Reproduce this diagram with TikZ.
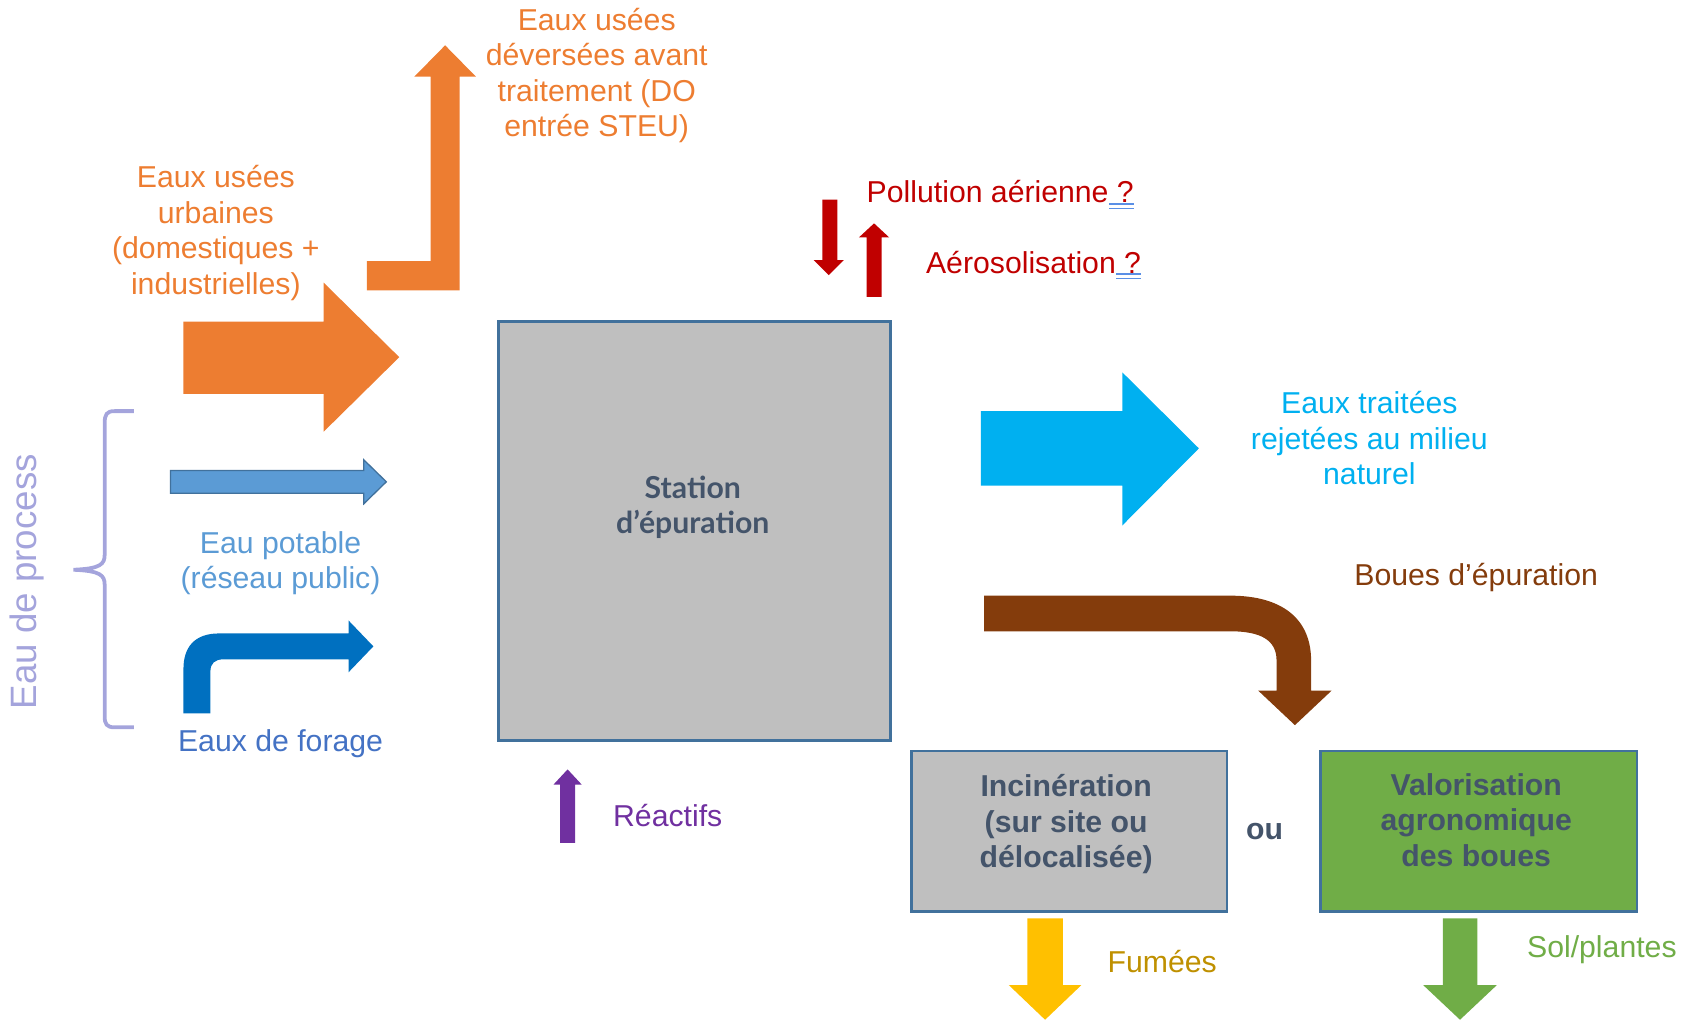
\documentclass[tikz,border=0pt]{standalone}
\usepackage{fontspec}
\setmainfont{Liberation Sans}
\newfontfamily\lato{Lato}
\usetikzlibrary{calc}
\definecolor{orangeW}{HTML}{ED7D31}
\definecolor{potable}{HTML}{5B9BD5}
\definecolor{potableB}{HTML}{41719C}
\definecolor{forage}{HTML}{0070C0}
\definecolor{forageT}{HTML}{4472C4}
\definecolor{braceC}{HTML}{A4A4DC}
\definecolor{redW}{HTML}{C00000}
\definecolor{cyanW}{HTML}{00B0F0}
\definecolor{brownW}{HTML}{843C0C}
\definecolor{boxgray}{HTML}{BFBFBF}
\definecolor{boxborder}{HTML}{41719C}
\definecolor{boxtext}{HTML}{44546A}
\definecolor{greenW}{HTML}{70AD47}
\definecolor{yellowW}{HTML}{FFC000}
\definecolor{fumeeT}{HTML}{BF9000}
\definecolor{purpleW}{HTML}{7030A0}
\definecolor{spellC}{HTML}{5A8FE6}
\begin{document}
\begin{tikzpicture}[x=1pt,y=-1pt,
  lbl/.style={inner sep=0pt, align=center, font=\fontsize{28}{33}\selectfont},
  box/.style={draw=boxborder, line width=2.5pt, fill=boxgray, inner sep=0pt},
  boxtxt/.style={inner sep=0pt, align=center, text=boxtext, font=\fontsize{28}{33}\selectfont\bfseries},
  spell/.style={draw=spellC, line width=1.3pt}
]
\useasboundingbox (0,0) rectangle (1568,945);

% ---------- boxes ----------
\node[box, minimum width=363pt, minimum height=388pt] (station) at (643.5,492) {};
\node[boxtxt, font=\fontsize{28}{33}\selectfont\lato\bfseries] (stationtxt) at (642,470) {Station\\d’épuration};
\node[box, minimum width=292pt, minimum height=149pt] (incin) at (991,770.5) {};
\node[boxtxt] (incintxt) at (988,764) {Incinération\\(sur site ou\\délocalisée)};
\node[box, fill=greenW, minimum width=293pt, minimum height=149pt] (valor) at (1370.5,770.5) {};
\node[boxtxt] (valortxt) at (1368,760) {Valorisation\\agronomique\\des boues};
\node[boxtxt] (ou) at (1172,771) {ou};

% ---------- orange arrows ----------
\fill[orangeW] (340,242) -- (399,242) -- (399,71) -- (384,71) -- (412.5,42) -- (441,71) -- (426,71) -- (426,269) -- (340,269) -- cycle;
\fill[orangeW] (170,298) -- (300,298) -- (300,262) -- (370,331) -- (300,400) -- (300,365) -- (170,365) -- cycle;
\node[lbl, text=orangeW] (deverse) at (553,70) {Eaux usées\\déversées avant\\traitement (DO\\entrée STEU)};
\node[lbl, text=orangeW] (urbaines) at (200,216) {Eaux usées\\urbaines\\(domestiques +\\industrielles)};

% ---------- process water ----------
\filldraw[fill=potable, draw=potableB, line width=1.2pt] (158,436) -- (337,436) -- (337,426) -- (358,446.5) -- (337,467) -- (337,457) -- (158,457) -- cycle;
\node[lbl, text=potable] (potabletxt) at (260,522) {Eau potable\\(réseau public)};
\fill[forage] (170,661) -- (170,620) .. controls (170,600) and (180,587) .. (203,587) -- (323,587) -- (323,575) -- (346,599) -- (323,623) -- (323,611) -- (207,611) .. controls (199,611) and (195,615) .. (195,622) -- (195,661) -- cycle;
\node[lbl, text=forageT] (foragetxt) at (260,689) {Eaux de forage};
\draw[braceC, line width=3.5pt] (124,381) -- (106,381) .. controls (99,381) and (97,384) .. (97,392) -- (97,514) .. controls (97,523) and (93,527) .. (68,528) .. controls (93,529) and (97,533) .. (97,542) -- (97,664) .. controls (97,671) and (99,674) .. (106,674) -- (124,674);
\node[lbl, text=braceC, rotate=90, font=\fontsize{34}{40}\selectfont] (process) at (25,539) {Eau de process};

% ---------- air ----------
\fill[redW] (762,185) -- (776,185) -- (776,241) -- (782,241) -- (768,255) -- (754,241) -- (762,241) -- cycle;
\fill[redW] (803,275) -- (817,275) -- (817,220) -- (824,220) -- (810,207) -- (796,220) -- (803,220) -- cycle;
\node[lbl, text=redW, anchor=base west] (pollution) at (803,188) {Pollution aérienne ?};
\node[lbl, text=redW, anchor=base west] (aero) at (858,253) {Aérosolisation ?};
\draw[spell] ($(pollution.base east)+(-23,1)$) -- ($(pollution.base east)+(0,1)$);
\draw[spell] ($(pollution.base east)+(-23,5)$) -- ($(pollution.base east)+(0,5)$);
\draw[spell] ($(aero.base east)+(-23,1)$) -- ($(aero.base east)+(0,1)$);
\draw[spell] ($(aero.base east)+(-23,5)$) -- ($(aero.base east)+(0,5)$);

% ---------- reagents ----------
\fill[purpleW] (519,781) -- (533,781) -- (533,727) -- (539,727) -- (526,713) -- (513,727) -- (519,727) -- cycle;
\node[lbl, text=purpleW, anchor=west] (reactifs) at (568,756) {Réactifs};

% ---------- treated water ----------
\fill[cyanW] (909,381) -- (1040,381) -- (1040,345) -- (1111,415.5) -- (1040,487) -- (1040,450) -- (909,450) -- cycle;
\node[lbl, text=cyanW] (traitees) at (1269,406) {Eaux traitées\\rejetées au milieu\\naturel};

% ---------- sludge ----------
\fill[brownW] (912,552) -- (1140,552) .. controls (1190,552) and (1215,575) .. (1215,612) -- (1215,640) -- (1234,640) -- (1200,672) -- (1166,640) -- (1183,640) -- (1183,612) .. controls (1183,593) and (1168,585) .. (1140,585) -- (912,585) -- cycle;
\node[lbl, text=brownW] (boues) at (1368,535) {Boues d’épuration};

% ---------- outputs ----------
\fill[yellowW] (952,851) -- (985,851) -- (985,913) -- (1002,913) -- (968.5,945) -- (935,913) -- (952,913) -- cycle;
\node[lbl, text=fumeeT] (fumees) at (1077,891) {Fumées};
\fill[greenW] (1337,851) -- (1369,851) -- (1369,913) -- (1387,913) -- (1353,945) -- (1319,913) -- (1337,913) -- cycle;
\node[lbl, text=greenW, anchor=west] (sol) at (1415,880) {Sol/plantes};
\end{tikzpicture}
\end{document}
